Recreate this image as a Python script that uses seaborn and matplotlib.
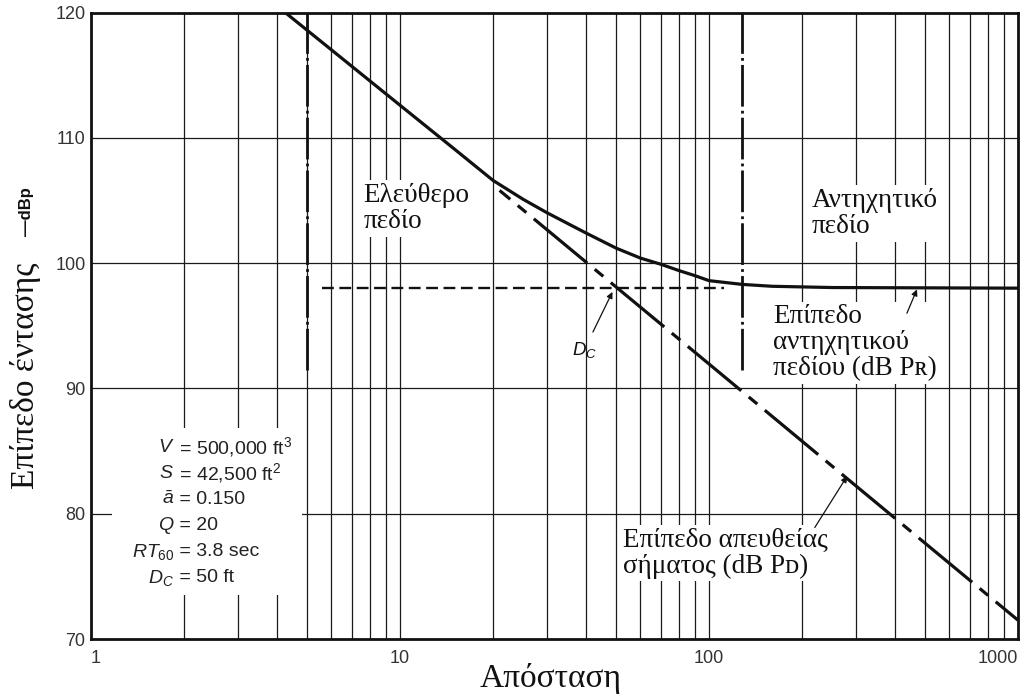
import matplotlib
matplotlib.use("Agg")
import matplotlib.pyplot as plt
import seaborn as sns
import pandas as pd
import numpy as np
from matplotlib.patches import Rectangle
from matplotlib.ticker import FixedLocator, NullFormatter

# ---------------- data ----------------
total_dist = [4.25, 10, 15, 20, 25, 30, 40, 50, 60, 70, 80, 90, 100, 128, 160, 250, 1000]
total_level = [120, 112.6, 109.1, 106.6, 105.1, 104.0, 102.4, 101.2, 100.4, 99.9, 99.4,
               99.0, 98.6, 98.3, 98.15, 98.05, 98.0]
direct_dist = [4.25, 10, 21, 50, 100, 280, 1000]
direct_level = [120, 112.4, 105.8, 98.1, 91.95, 82.8, 71.5]
split_dist = 21                 # where the direct line leaves the total curve
reverb_level = 98.0
reverb_line_range = [5.6, 112]
boundary_dist = [5, 128]        # free-field / reverberant-field limits
boundary_levels = [91.5, 120]
x_ticks = [1, 10, 100, 1000]
x_tick_labels = ["1", "10", "100", "1000"]
y_ticks = [70, 80, 90, 100, 110, 120]
y_grid = [80, 90, 100, 110]
params_left = [r"$V$", r"$S$", r"$\bar{a}$", r"$Q$", r"$RT_{60}$", r"$D_C$"]
params_right = [r" = 500,000 ft$^3$", r" = 42,500 ft$^2$", r" = 0.150", r" = 20",
                r" = 3.8 sec", r" = 50 ft"]

# ---------------- style ----------------
sns.set_theme(style="white")
plt.rcParams["font.family"] = ["Liberation Serif", "DejaVu Serif"]
plt.rcParams["mathtext.fontset"] = "custom"
plt.rcParams["mathtext.rm"] = "Liberation Sans"
plt.rcParams["mathtext.it"] = "Liberation Sans:italic"
plt.rcParams["lines.scale_dashes"] = False
SANS = ["Liberation Sans", "DejaVu Sans"]
SERIF = ["Liberation Serif", "DejaVu Serif"]
INK = "#111111"

fig = plt.figure(figsize=(10.22, 6.95), dpi=100)
ax = fig.add_axes([91 / 1022, 1 - 639 / 695, (1018 - 91) / 1022, (639 - 12.5) / 695])
ax.set_xscale("log")
ax.set_xlim(1, 1000)
ax.set_ylim(70, 120)

# grid
minor = [m * 10 ** d for d in range(0, 3) for m in range(2, 10)]
ax.xaxis.set_major_locator(FixedLocator(x_ticks))
ax.xaxis.set_minor_locator(FixedLocator(minor))
ax.xaxis.set_minor_formatter(NullFormatter())
ax.set_xticklabels(x_tick_labels)
ax.set_yticks(y_ticks)
ax.set_axisbelow(True)
for xv in x_ticks[1:-1] + minor:
    ax.axvline(xv, color="#1a1a1a", lw=0.9, zorder=0.5)
for yv in y_grid:
    ax.axhline(yv, color="#1a1a1a", lw=0.9, zorder=0.5)

for s in ax.spines.values():
    s.set_linewidth(2.0)
    s.set_color(INK)
ax.tick_params(axis="both", which="both", length=0)
ax.tick_params(axis="x", pad=8)
ax.tick_params(axis="y", pad=4)
for lab in ax.get_xticklabels() + ax.get_yticklabels():
    lab.set_family(SANS)
    lab.set_fontsize(13)
    lab.set_color("#333333")
ax.get_xticklabels()[-1].set_horizontalalignment("right")
ax.get_xticklabels()[0].set_horizontalalignment("left")

# white box behind the room-parameter block
ax.add_patch(Rectangle((1.17, 73.5), 4.82 - 1.17, 86.8 - 73.5, facecolor="white",
                       edgecolor="none", zorder=1))

# ---------------- curves ----------------
df_total = pd.DataFrame({"dist": total_dist, "level": total_level})
sns.lineplot(data=df_total, x="dist", y="level", ax=ax, color=INK, lw=2.3,
             estimator=None, sort=False, zorder=3)

df_direct = pd.DataFrame({"dist": direct_dist, "level": direct_level})
dd = df_direct[df_direct["dist"] >= split_dist]
sns.lineplot(data=dd, x="dist", y="level", ax=ax, color=INK, lw=2.3, estimator=None,
             sort=False, zorder=3, linestyle=(40, (50, 7, 8, 7)))

ax.hlines(reverb_level, reverb_line_range[0], reverb_line_range[1], colors=INK, lw=1.7,
          linestyles=[(0, (8.5, 4))], zorder=2.8)
ax.vlines(boundary_dist, boundary_levels[0], boundary_levels[1], colors=INK, lw=2.0,
          linestyles=[(0, (30, 3, 2, 3))], zorder=2.8)
ax.set_xlabel("")
ax.set_ylabel("")

# ---------------- annotations ----------------
box = dict(facecolor="white", edgecolor="none", pad=2)
FS = 19.5
LS = 1.05
ax.text(7.6, 106.4, "Ελεύθερο\nπεδίο", fontsize=FS, va="top", ha="left", family=SERIF,
        color=INK, linespacing=LS, bbox=box, zorder=4)
ax.text(215, 106.0, "Αντηχητικό\nπεδίο", fontsize=FS, va="top", ha="left", family=SERIF,
        color=INK, linespacing=LS, bbox=box, zorder=4)
ax.text(161, 96.7, "Επίπεδο\nαντηχητικού\nπεδίου (dB Pʀ)", fontsize=FS, va="top",
        ha="left", family=SERIF, color=INK, linespacing=LS, bbox=box, zorder=4)
ax.text(52.7, 78.9, "Επίπεδο απευθείας\nσήματος (dB Pᴅ)", fontsize=FS, va="top",
        ha="left", family=SERIF, color=INK, linespacing=LS, bbox=box, zorder=4)

arrow = dict(arrowstyle="-|>", color=INK, lw=0.9, mutation_scale=9, shrinkA=0, shrinkB=0)
ax.annotate("", xy=(48.7, 97.7), xytext=(42.1, 94.5), arrowprops=arrow, zorder=4)
ax.text(39.7, 93.1, r"$D_C$", fontsize=13.5, ha="center", va="center", color=INK)
ax.annotate("", xy=(471, 97.9), xytext=(437, 96.0), arrowprops=arrow, zorder=4)
ax.annotate("", xy=(280, 83.0), xytext=(220, 78.9), arrowprops=arrow, zorder=4)

y0, step = 85.3, 2.08
for i, (l, r) in enumerate(zip(params_left, params_right)):
    yy = y0 - i * step
    ax.text(1.86, yy, l, fontsize=14, ha="right", va="center", family=SANS, color="#222222", zorder=4)
    ax.text(1.86, yy, r, fontsize=14, ha="left", va="center", family=SANS, color="#222222", zorder=4)

# axis titles
fig.text(0.0245, 0.46, "Επίπεδο έντασης", rotation=90, ha="center", va="center",
         fontsize=24, family=SERIF, color=INK)
fig.text(0.026, 0.695, "—dBp", rotation=90, ha="center", va="center", fontsize=12,
         family=SANS, fontweight="bold", color=INK)
fig.text(0.539, 0.012, "Απόσταση", ha="center", va="baseline", fontsize=24, family=SERIF,
         color=INK)

fig.savefig("out.png", dpi=100)
